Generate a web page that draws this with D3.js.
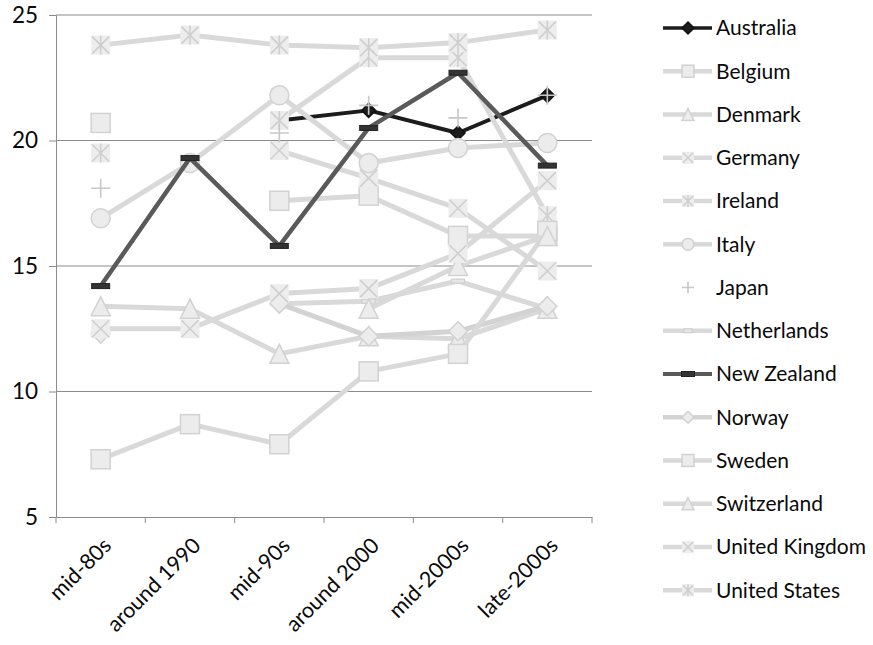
<!DOCTYPE html>
<html>
<head>
<meta charset="utf-8">
<script src="https://cdn.jsdelivr.net/npm/d3@7"></script>
<style>
  html, body { margin: 0; padding: 0; background: #fff; }
  svg { display: block; }
  text { font-family: Lato, "Open Sans", sans-serif; fill: #0a0a0a; }
</style>
</head>
<body>
<div id="chart"></div>
<script>
// ---- data ----
const categories = ["mid-80s", "around 1990", "mid-90s", "around 2000", "mid-2000s", "late-2000s"];
const yTicks = [5, 10, 15, 20, 25];
const countries = ["Australia", "Belgium", "Denmark", "Germany", "Ireland", "Italy", "Japan",
  "Netherlands", "New Zealand", "Norway", "Sweden", "Switzerland", "United Kingdom", "United States"];

const australia     = [null, null, 20.8, 21.2, 20.3, 21.8];
const belgium       = [20.7, null, 17.6, 17.8, 16.2, 16.2];
const denmark       = [13.4, 13.3, 11.5, 12.2, 12.1, 13.3];
const germany       = [null, null, 19.6, 18.5, 17.3, 14.8];
const ireland       = [19.5, null, 20.8, 23.3, 23.3, 17.0];
const italy         = [16.9, 19.1, 21.8, 19.1, 19.7, 19.9];
const japan         = [18.1, null, 20.3, 21.4, 20.9, 21.8];
const netherlands   = [null, null, 13.5, 13.6, 14.4, 13.3];
const newZealand    = [14.2, 19.3, 15.8, 20.5, 22.7, 19.0];
const norway        = [12.3, null, 13.5, 12.2, 12.4, 13.4];
const sweden        = [7.3, 8.7, 7.9, 10.8, 11.5, 16.4];
const switzerland   = [null, null, null, 13.3, 15.0, 16.2];
const unitedKingdom = [12.5, 12.5, 13.9, 14.1, 15.5, 18.4];
const unitedStates  = [23.8, 24.2, 23.8, 23.7, 23.9, 24.4];

const seriesValues = [australia, belgium, denmark, germany, ireland, italy, japan,
  netherlands, newZealand, norway, sweden, switzerland, unitedKingdom, unitedStates];

// ---- styles (kept apart from data) ----
const LIGHT = "#d9d9d9", MFILL = "#ececec", MSTROKE = "#d2d2d2";
const styles = {
  "Australia":      { line: "#1c1c1c", width: 4, marker: "diamond", fill: "#1c1c1c", stroke: "#111" },
  "Belgium":        { line: LIGHT, width: 5, marker: "square" },
  "Denmark":        { line: LIGHT, width: 5, marker: "triangle" },
  "Germany":        { line: LIGHT, width: 5, marker: "x" },
  "Ireland":        { line: LIGHT, width: 5, marker: "star" },
  "Italy":          { line: LIGHT, width: 5, marker: "circle" },
  "Japan":          { line: null, width: 0, marker: "plus" },
  "Netherlands":    { line: LIGHT, width: 5, marker: "dash" },
  "New Zealand":    { line: "#5a5a5a", width: 4.5, marker: "dash", fill: "#333", stroke: "#222" },
  "Norway":         { line: "#d3d3d3", width: 5, marker: "diamond" },
  "Sweden":         { line: LIGHT, width: 5, marker: "square" },
  "Switzerland":    { line: LIGHT, width: 5, marker: "triangle" },
  "United Kingdom": { line: LIGHT, width: 5, marker: "x" },
  "United States":  { line: LIGHT, width: 5, marker: "star" }
};

const W = 873, H = 645;
const svg = d3.select("#chart").append("svg").attr("width", W).attr("height", H);

const x = d3.scaleBand().domain(categories).range([56, 592]);
const y = d3.scaleLinear().domain([5, 25]).range([517, 15]);
const cx = c => x(c) + x.bandwidth() / 2;

// gridlines
svg.append("g").selectAll("line").data(yTicks.filter(t => t > 5)).join("line")
  .attr("x1", 56).attr("x2", 592).attr("y1", d => y(d)).attr("y2", d => y(d))
  .attr("stroke", "#8c8c8c").attr("stroke-width", 1);

// y axis
const yAxis = svg.append("g").attr("transform", "translate(56,0)")
  .call(d3.axisLeft(y).tickValues(yTicks).tickSize(7).tickPadding(11));
yAxis.attr("font-size", null).attr("font-family", null);
yAxis.select(".domain").attr("stroke", "#8c8c8c");
yAxis.selectAll(".tick line").attr("stroke", "#8c8c8c");
yAxis.selectAll(".tick text").style("font-size", "22.5px").attr("fill", "#0a0a0a")
  .style("font-family", "Lato, sans-serif");

// x axis
const xAxis = svg.append("g").attr("transform", "translate(0,517)")
  .call(d3.axisBottom(x).tickSize(0).tickFormat(""));
xAxis.select(".domain").attr("stroke", "#8c8c8c");
const bounds = categories.map(c => x(c)).concat([592]);
xAxis.selectAll("line.sep").data(bounds).join("line").attr("class", "sep")
  .attr("x1", d => d).attr("x2", d => d).attr("y1", 0).attr("y2", 6)
  .attr("stroke", "#8c8c8c");
svg.append("g").selectAll("text").data(categories).join("text")
  .attr("transform", d => `translate(${cx(d) + 12},547) rotate(-45)`)
  .attr("text-anchor", "end")
  .style("font-size", "21.5px")
  .text(d => d);

// marker drawer
function drawMarker(g, type, s, st) {
  const fill = st.fill || MFILL, stroke = st.stroke || MSTROKE;
  const h = s / 2;
  if (type === "square") {
    g.append("rect").attr("x", -h).attr("y", -h).attr("width", s).attr("height", s)
      .attr("fill", fill).attr("stroke", stroke).attr("stroke-width", 1.5);
  } else if (type === "triangle") {
    g.append("path").attr("d", `M0,${-h}L${h},${h}L${-h},${h}Z`)
      .attr("fill", fill).attr("stroke", stroke).attr("stroke-width", 1.5);
  } else if (type === "circle") {
    g.append("circle").attr("r", h).attr("fill", fill).attr("stroke", stroke).attr("stroke-width", 1.5);
  } else if (type === "diamond") {
    g.append("path").attr("d", `M0,${-h}L${h},0L0,${h}L${-h},0Z`)
      .attr("fill", fill).attr("stroke", stroke).attr("stroke-width", 1.5);
  } else if (type === "x" || type === "star") {
    g.append("rect").attr("x", -h).attr("y", -h).attr("width", s).attr("height", s)
      .attr("fill", "#ededed");
    g.append("path").attr("d", `M${-h + 1},${-h + 1}L${h - 1},${h - 1}M${h - 1},${-h + 1}L${-h + 1},${h - 1}` +
      (type === "star" ? `M0,${-h}L0,${h}` : ""))
      .attr("fill", "none").attr("stroke", "#cfcfcf").attr("stroke-width", 1.6);
  } else if (type === "plus") {
    g.append("path").attr("d", `M0,${-h}L0,${h}M${-h},0L${h},0`)
      .attr("fill", "none").attr("stroke", st.stroke || "#c8c8c8").attr("stroke-width", 1.6);
  } else if (type === "dash") {
    const w = st.fill ? s : s * 0.7, hh = st.fill ? 5 : 4;
    g.append("rect").attr("x", -w / 2).attr("y", -hh / 2).attr("width", w).attr("height", hh)
      .attr("fill", st.fill || "#e6e6e6").attr("stroke", st.stroke || "#cccccc").attr("stroke-width", 1);
  }
}

const line = d3.line().defined(d => d.v != null).x(d => cx(d.c)).y(d => y(d.v));

countries.forEach((name, i) => {
  const st = styles[name];
  const pts = categories.map((c, j) => ({ c, v: seriesValues[i][j] }));
  const g = svg.append("g").attr("class", "series");
  if (st.line) {
    g.append("path").datum(pts).attr("d", line).attr("fill", "none")
      .attr("stroke", st.line).attr("stroke-width", st.width).attr("stroke-linejoin", "round");
  }
  const size = name === "Australia" ? 14 : (name === "New Zealand" ? 18 : 19);
  pts.filter(d => d.v != null).forEach(d => {
    const mg = g.append("g").attr("transform", `translate(${cx(d.c)},${y(d.v)})`);
    drawMarker(mg, st.marker, size, st);
  });
});

// legend
const legend = svg.append("g");
countries.forEach((name, i) => {
  const st = styles[name];
  const ly = 28 + i * 43.25;
  const g = legend.append("g").attr("transform", `translate(0,${ly})`);
  if (st.line) {
    g.append("line").attr("x1", 663).attr("x2", 712).attr("y1", 0).attr("y2", 0)
      .attr("stroke", st.line).attr("stroke-width", st.width - 0.5);
  }
  const mg = g.append("g").attr("transform", "translate(688,0)");
  drawMarker(mg, st.marker, name === "New Zealand" ? 13 : 12, st);
  g.append("text").attr("x", 716).attr("y", 0).attr("dy", "0.35em")
    .style("font-size", "21px").text(name);
});
</script>
</body>
</html>
